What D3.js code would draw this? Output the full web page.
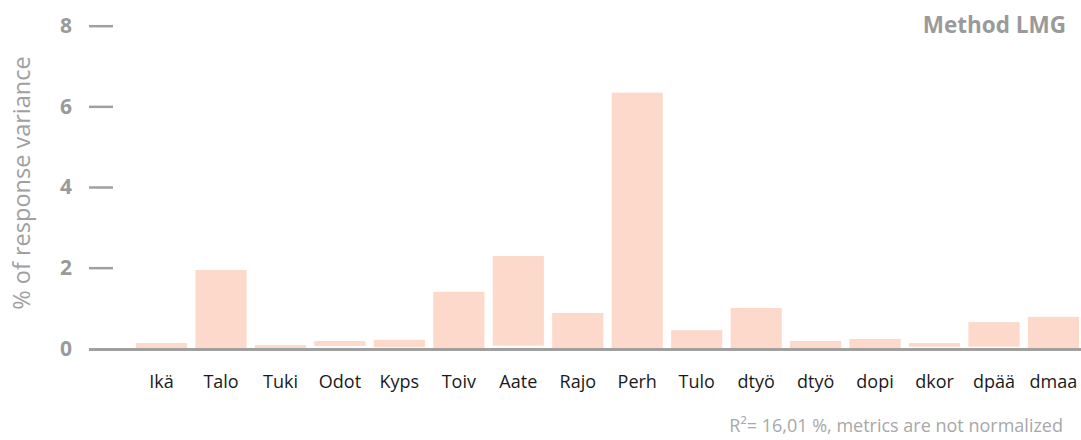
<!DOCTYPE html>
<html>
<head>
<meta charset="utf-8">
<script src="https://cdn.jsdelivr.net/npm/d3@7"></script>
<style>
  html, body { margin: 0; padding: 0; background: #fff; }
  svg { display: block; }
</style>
</head>
<body>
<svg id="chart" width="1081" height="440"></svg>
<script>
const categories = ["Ikä","Talo","Tuki","Odot","Kyps","Toiv","Aate","Rajo","Perh","Tulo","dtyö","dtyö","dopi","dkor","dpää","dmaa"];
const upperValues = [0.13, 1.94, 0.08, 0.18, 0.21, 1.40, 2.29, 0.875, 6.34, 0.45, 1.00, 0.18, 0.23, 0.13, 0.65, 0.78];
const lowerValues = [0, 0, 0, 0.057, 0.03, 0, 0.065, 0, 0, 0, 0, 0, 0, 0.04, 0.04, 0];
const yTicks = [0, 2, 4, 6, 8];
const yTitle = "% of response variance";
const methodLabel = "Method LMG";
const footnote = "R²= 16,01 %, metrics are not normalized";

const svg = d3.select("#chart");
const font = "'Open Sans', 'Noto Sans', sans-serif";

const x = d3.scaleBand().domain(d3.range(categories.length)).range([136, 1079]).paddingInner(0.14).paddingOuter(0);
const y = d3.scaleLinear().domain([0, 8]).range([348.3, 25.7]);

// bars
svg.append("g").selectAll("rect")
  .data(categories.map((c, i) => ({c, i, lo: lowerValues[i], hi: upperValues[i]})))
  .join("rect")
  .attr("x", d => x(d.i))
  .attr("width", x.bandwidth())
  .attr("y", d => y(d.hi))
  .attr("height", d => y(d.lo) - y(d.hi))
  .attr("fill", "#fcd9cb");

// y axis ticks
const yAxis = d3.axisLeft(y).tickValues(yTicks).tickSize(24).tickPadding(17).tickFormat(d3.format("d"));
const gy = svg.append("g").attr("transform", "translate(113,0)").call(yAxis);
gy.select(".domain").remove();
gy.selectAll(".tick line").attr("stroke", "#a0a0a0").attr("stroke-width", 2.5)
  .filter(d => d === 0).remove();
gy.selectAll(".tick text").attr("fill", "#9a9a9a").attr("font-family", font).attr("font-weight", "bold").attr("font-size", 21);

// baseline
svg.append("line").attr("x1", 89).attr("x2", 1081).attr("y1", y(0) + 1.3).attr("y2", y(0) + 1.3)
  .attr("stroke", "#a0a0a0").attr("stroke-width", 3);

// category labels
svg.append("g").selectAll("text")
  .data(categories)
  .join("text")
  .attr("x", (d, i) => x(i) + x.bandwidth() / 2)
  .attr("y", 388)
  .attr("text-anchor", "middle")
  .attr("font-family", font)
  .attr("font-size", 18)
  .attr("fill", "#1a1a1a")
  .text(d => d);

// y title
svg.append("text")
  .attr("transform", "translate(30,183) rotate(-90)")
  .attr("text-anchor", "middle")
  .attr("font-family", font)
  .attr("font-size", 23.5)
  .attr("fill", "#a0a0a0")
  .text(yTitle);

// method label
svg.append("text")
  .attr("x", 1066).attr("y", 33)
  .attr("text-anchor", "end")
  .attr("font-family", font)
  .attr("font-weight", "bold")
  .attr("font-size", 22.5)
  .attr("fill", "#9a9a9a")
  .text(methodLabel);

// footnote
svg.append("text")
  .attr("x", 1063).attr("y", 432)
  .attr("text-anchor", "end")
  .attr("font-family", font)
  .attr("font-size", 18)
  .attr("fill", "#a8a8a8")
  .text(footnote);
</script>
</body>
</html>
